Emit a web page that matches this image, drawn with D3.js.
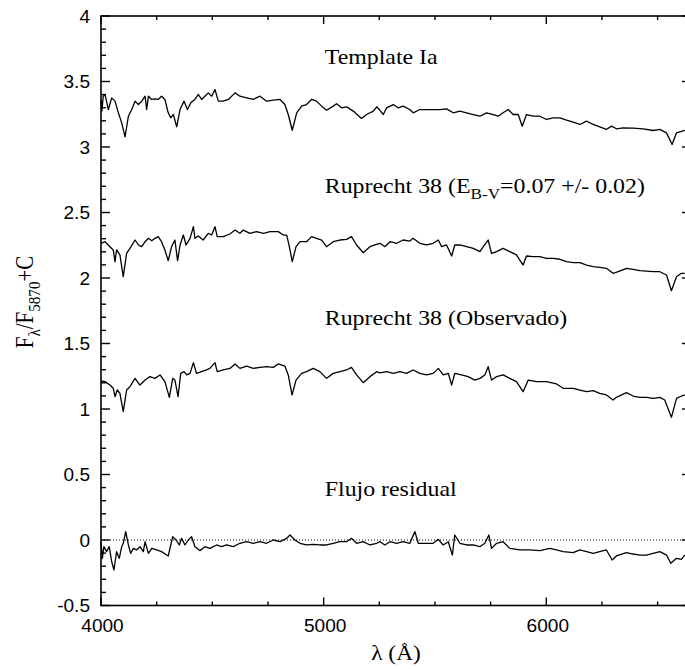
<!DOCTYPE html>
<html><head><meta charset="utf-8">
<script src="https://cdn.jsdelivr.net/npm/d3@7"></script>
<style>body{margin:0;background:#fff}svg{display:block}</style>
</head><body><svg id="c" width="685" height="669"></svg>
<script>
// ---- data (wavelength in Å, flux F/F5870 + C) ----
const templateWl = [4000,4004,4010,4018,4033,4048,4063,4078,4093,4108,4123,4138,4153,4168,4183,4198,4205,4213,4228,4242,4257,4272,4287,4302,4313,4325,4340,4355,4373,4388,4403,4422,4437,4452,4467,4482,4497,4512,4527,4549,4572,4602,4624,4654,4684,4714,4744,4774,4804,4826,4841,4859,4879,4901,4923,4946,4968,4991,5013,5043,5058,5081,5103,5133,5170,5193,5223,5238,5253,5268,5283,5313,5335,5357,5387,5402,5432,5477,5522,5552,5582,5612,5642,5672,5702,5732,5762,5784,5806,5829,5851,5874,5892,5911,5941,5971,6001,6031,6061,6091,6121,6151,6181,6211,6240,6270,6293,6315,6345,6390,6435,6480,6510,6540,6565,6585,6622];
const templateFlux = [3.363,3.274,3.388,3.401,3.286,3.375,3.350,3.261,3.184,3.078,3.235,3.286,3.350,3.324,3.350,3.388,3.286,3.388,3.363,3.368,3.363,3.388,3.363,3.261,3.223,3.248,3.154,3.286,3.350,3.286,3.337,3.363,3.401,3.363,3.388,3.413,3.388,3.439,3.350,3.350,3.363,3.413,3.388,3.375,3.363,3.388,3.350,3.358,3.363,3.324,3.248,3.128,3.261,3.312,3.324,3.363,3.350,3.312,3.281,3.312,3.330,3.299,3.307,3.274,3.218,3.248,3.274,3.307,3.280,3.248,3.299,3.324,3.299,3.312,3.286,3.261,3.286,3.286,3.286,3.291,3.261,3.274,3.261,3.248,3.235,3.261,3.248,3.235,3.261,3.286,3.248,3.248,3.159,3.248,3.235,3.235,3.210,3.223,3.223,3.205,3.190,3.172,3.197,3.172,3.154,3.134,3.159,3.139,3.146,3.144,3.139,3.126,3.134,3.108,3.019,3.108,3.126];

const dereddenedWl = [4000,4018,4040,4055,4063,4070,4085,4100,4115,4130,4153,4168,4183,4198,4213,4228,4242,4257,4272,4287,4302,4317,4332,4344,4355,4370,4382,4400,4415,4422,4437,4459,4482,4497,4512,4522,4549,4579,4602,4624,4639,4669,4699,4729,4759,4796,4819,4834,4846,4859,4876,4894,4923,4946,4968,4991,5013,5043,5073,5103,5125,5148,5178,5208,5230,5253,5275,5298,5328,5357,5387,5402,5432,5462,5492,5515,5530,5552,5575,5589,5612,5642,5672,5702,5717,5739,5754,5777,5806,5836,5866,5896,5911,5941,5971,6001,6031,6061,6091,6121,6151,6181,6211,6240,6270,6300,6323,6360,6390,6420,6450,6480,6510,6540,6562,6585,6607,6622];
const dereddenedFlux = [2.265,2.277,2.239,2.214,2.125,2.214,2.176,2.010,2.188,2.226,2.290,2.252,2.239,2.277,2.303,2.285,2.303,2.316,2.277,2.214,2.132,2.239,2.290,2.132,2.252,2.328,2.252,2.303,2.392,2.303,2.321,2.290,2.341,2.328,2.392,2.316,2.316,2.336,2.366,2.341,2.366,2.341,2.354,2.341,2.354,2.354,2.328,2.328,2.239,2.125,2.239,2.277,2.277,2.316,2.303,2.290,2.239,2.277,2.290,2.295,2.316,2.252,2.193,2.239,2.252,2.265,2.239,2.277,2.265,2.290,2.282,2.303,2.265,2.252,2.265,2.290,2.239,2.252,2.168,2.252,2.252,2.239,2.226,2.201,2.239,2.290,2.188,2.201,2.226,2.201,2.176,2.099,2.168,2.163,2.163,2.150,2.150,2.143,2.125,2.117,2.117,2.099,2.087,2.081,2.074,2.036,2.048,2.074,2.066,2.056,2.053,2.048,2.048,2.023,1.903,2.010,2.036,2.036];

const observedWl = [4000,4018,4040,4055,4063,4073,4085,4100,4115,4130,4153,4175,4198,4220,4242,4265,4287,4307,4322,4332,4346,4358,4373,4385,4400,4415,4429,4452,4474,4489,4512,4522,4549,4579,4602,4624,4654,4684,4714,4744,4774,4796,4826,4841,4858,4876,4901,4923,4953,4983,5013,5043,5073,5103,5125,5148,5178,5208,5238,5253,5283,5313,5343,5372,5402,5432,5462,5492,5515,5537,5560,5575,5589,5619,5649,5679,5702,5724,5739,5754,5777,5806,5836,5866,5896,5919,5956,6001,6046,6076,6121,6151,6181,6211,6240,6270,6300,6315,6360,6390,6420,6450,6480,6510,6532,6562,6585,6607,6622];
const observedFlux = [1.214,1.209,1.183,1.158,1.094,1.145,1.120,0.980,1.145,1.170,1.234,1.183,1.221,1.247,1.234,1.260,1.209,1.089,1.234,1.221,1.094,1.272,1.285,1.260,1.272,1.354,1.272,1.285,1.298,1.310,1.354,1.285,1.298,1.310,1.344,1.310,1.328,1.310,1.318,1.323,1.318,1.344,1.328,1.260,1.107,1.221,1.272,1.285,1.310,1.285,1.234,1.272,1.285,1.298,1.318,1.260,1.201,1.247,1.285,1.275,1.285,1.272,1.285,1.272,1.298,1.272,1.260,1.272,1.310,1.260,1.272,1.183,1.272,1.260,1.247,1.221,1.234,1.260,1.323,1.221,1.247,1.260,1.234,1.209,1.132,1.221,1.209,1.209,1.191,1.158,1.158,1.145,1.132,1.140,1.120,1.107,1.069,1.089,1.125,1.099,1.089,1.089,1.081,1.089,1.069,0.936,1.081,1.099,1.107];

const residualWl = [4000,4006,4013,4025,4037,4048,4058,4070,4082,4093,4100,4111,4123,4133,4145,4160,4175,4190,4198,4213,4228,4250,4272,4302,4322,4337,4352,4362,4377,4392,4407,4422,4444,4467,4489,4519,4542,4564,4594,4624,4654,4684,4714,4744,4774,4804,4834,4849,4871,4894,4923,4953,4983,5013,5043,5073,5103,5125,5148,5178,5208,5238,5253,5275,5298,5328,5357,5387,5410,5425,5455,5492,5515,5537,5560,5578,5589,5612,5642,5672,5702,5724,5742,5754,5777,5806,5836,5881,5926,5971,6016,6046,6076,6121,6151,6181,6211,6240,6270,6296,6315,6360,6390,6420,6450,6480,6510,6540,6559,6585,6607,6622];
const residualFlux = [-0.013,-0.140,-0.051,-0.089,-0.051,-0.165,-0.229,-0.089,-0.140,-0.051,-0.025,0.064,-0.038,-0.102,-0.064,-0.076,-0.051,-0.089,-0.013,-0.102,-0.064,-0.076,-0.089,-0.122,0.025,0.000,-0.038,0.013,-0.038,0.000,0.025,-0.051,-0.081,-0.051,-0.064,-0.038,-0.051,-0.038,-0.051,-0.025,-0.013,-0.025,-0.013,-0.025,0.000,-0.013,0.013,0.038,0.000,-0.025,-0.038,-0.033,-0.038,-0.038,-0.025,-0.013,-0.013,0.013,-0.025,-0.013,-0.038,-0.025,-0.013,-0.038,-0.013,-0.025,-0.013,-0.025,0.064,-0.025,-0.025,-0.025,0.005,-0.038,-0.013,-0.115,0.038,-0.025,-0.038,-0.038,-0.051,-0.025,0.038,-0.064,-0.025,-0.013,-0.064,-0.076,-0.076,-0.081,-0.064,-0.076,-0.089,-0.097,-0.076,-0.089,-0.102,-0.089,-0.076,-0.153,-0.122,-0.097,-0.107,-0.115,-0.115,-0.102,-0.089,-0.115,-0.178,-0.140,-0.148,-0.115];

const xTickValues = [4000, 5000, 6000];
const xTickLabels = ["4000", "5000", "6000"];
const yTickValues = [-0.5, 0, 0.5, 1, 1.5, 2, 2.5, 3, 3.5, 4];
const yTickLabels = ["-0.5", "0", "0.5", "1", "1.5", "2", "2.5", "3", "3.5", "4"];
const xDomain = [4000, 6650];
const yDomain = [-0.5, 4];

// ---- layout ----
const svg = d3.select("#c");
const L = 101, R = 691, T = 16, B = 605.5;
const x = d3.scaleLinear().domain(xDomain).range([L, R]);
const y = d3.scaleLinear().domain(yDomain).range([B, T]);
const SX = 1.17;           // horizontal stretch of serif text
const SANS = "'Liberation Sans', Arial, Helvetica, sans-serif";
const SERIF = "'Liberation Serif', 'Times New Roman', Times, serif";

// dotted zero line
svg.append("line").attr("x1", L).attr("x2", R).attr("y1", y(0)).attr("y2", y(0))
  .attr("stroke", "#000").attr("stroke-width", 1).attr("stroke-dasharray", "1,2");

// spectra
const line = d3.line().x(d => x(d[0])).y(d => y(d[1]));
const series = [
  [templateWl, templateFlux],
  [dereddenedWl, dereddenedFlux],
  [observedWl, observedFlux],
  [residualWl, residualFlux]
];
series.forEach(([wl, fl]) => {
  svg.append("path").datum(wl.map((w, i) => [w, fl[i]]))
    .attr("d", line).attr("fill", "none").attr("stroke", "#000")
    .attr("stroke-width", 1.3).attr("stroke-linejoin", "round");
});

// ---- frame and inward ticks ----
const xMinor = d3.range(4000, 6651, 250).filter(v => !xTickValues.includes(v));
const yMinor = d3.range(-5, 41).map(v => v / 10).filter(v => !yTickValues.some(t => Math.abs(t - v) < 1e-9));
const xt = xTickValues.map(v => ({ v, len: 8 })).concat(xMinor.map(v => ({ v, len: 4 })));
const yt = yTickValues.map(v => ({ v, len: 9 })).concat(yMinor.map(v => ({ v, len: 5 })));
const fr = svg.append("g").attr("stroke", "#000").attr("fill", "none");
fr.append("rect").attr("x", L).attr("y", T).attr("width", R - L).attr("height", B - T).attr("stroke-width", 1.6);
fr.selectAll("line.xb").data(xt).join("line").attr("class", "xb").attr("stroke-width", 1.4)
  .attr("x1", d => x(d.v)).attr("x2", d => x(d.v)).attr("y1", B).attr("y2", d => B - d.len);
fr.selectAll("line.xt").data(xt).join("line").attr("class", "xt").attr("stroke-width", 1.4)
  .attr("x1", d => x(d.v)).attr("x2", d => x(d.v)).attr("y1", T).attr("y2", d => T + d.len);
fr.selectAll("line.yl").data(yt).join("line").attr("class", "yl").attr("stroke-width", 1.4)
  .attr("y1", d => y(d.v)).attr("y2", d => y(d.v)).attr("x1", L).attr("x2", d => L + d.len);
fr.selectAll("line.yr").data(yt).join("line").attr("class", "yr").attr("stroke-width", 1.4)
  .attr("y1", d => y(d.v)).attr("y2", d => y(d.v)).attr("x1", R).attr("x2", d => R - d.len);

// tick labels via d3 axes (lines/domain hidden; frame drawn above)
const gB = svg.append("g").attr("transform", `translate(0,${B})`)
  .call(d3.axisBottom(x).tickValues(xTickValues).tickSize(0).tickFormat((d, i) => xTickLabels[i]));
const gL = svg.append("g").attr("transform", `translate(${L},0)`)
  .call(d3.axisLeft(y).tickValues(yTickValues).tickSize(0).tickFormat((d, i) => yTickLabels[i]));
[gB, gL].forEach(g => { g.select(".domain").remove(); g.selectAll(".tick line").remove(); });

gB.selectAll(".tick text").attr("font-family", SANS).attr("font-size", 18).attr("fill", "#000")
  .attr("y", 0).attr("dy", 0)
  .attr("transform", "translate(1,26) scale(1.06,1)");
gL.selectAll(".tick text").attr("font-family", SANS).attr("font-size", 18).attr("fill", "#000")
  .attr("x", 0).attr("dy", "0.35em")
  .attr("transform", "translate(-11,0) scale(1.06,1)");

// serif text helper: parts = [[text, kind]] kind: 0 normal, 1 sub, 2 back to baseline after sub
function serifText(px, py, parts, size, anchor, rotate) {
  const tr = rotate ? `translate(${px},${py}) rotate(-90) scale(1,${SX})` : `translate(${px},${py}) scale(${SX},1)`;
  const t = svg.append("text").attr("transform", tr)
    .attr("font-family", SERIF).attr("font-size", size).attr("fill", "#000")
    .attr("text-anchor", anchor);
  parts.forEach(([s, k]) => {
    const ts = t.append("tspan").text(s);
    if (k === 1) ts.attr("font-size", size * 0.72).attr("dy", size * 0.28);
    if (k === 2) ts.attr("dy", -size * 0.28);
  });
  return t;
}

// annotations
serifText(x(5005), y(3.634), [["Template Ia", 0]], 20.4, "start");
serifText(x(5005), y(2.649), [["Ruprecht 38 (E", 0], ["B-V", 1], ["=0.07 +/- 0.02)", 2]], 20.4, "start");
serifText(x(5005), y(1.641), [["Ruprecht 38 (Observado)", 0]], 20.4, "start");
serifText(x(5005), y(0.336), [["Flujo residual", 0]], 20.4, "start");

// axis titles
serifText((L + R) / 2, 660, [["λ (Å)", 0]], 20, "middle");
serifText(33, 302, [["F", 0], ["λ", 1], ["/F", 2], ["5870", 1], ["+C", 2]], 21, "middle", true);
</script></body></html>
